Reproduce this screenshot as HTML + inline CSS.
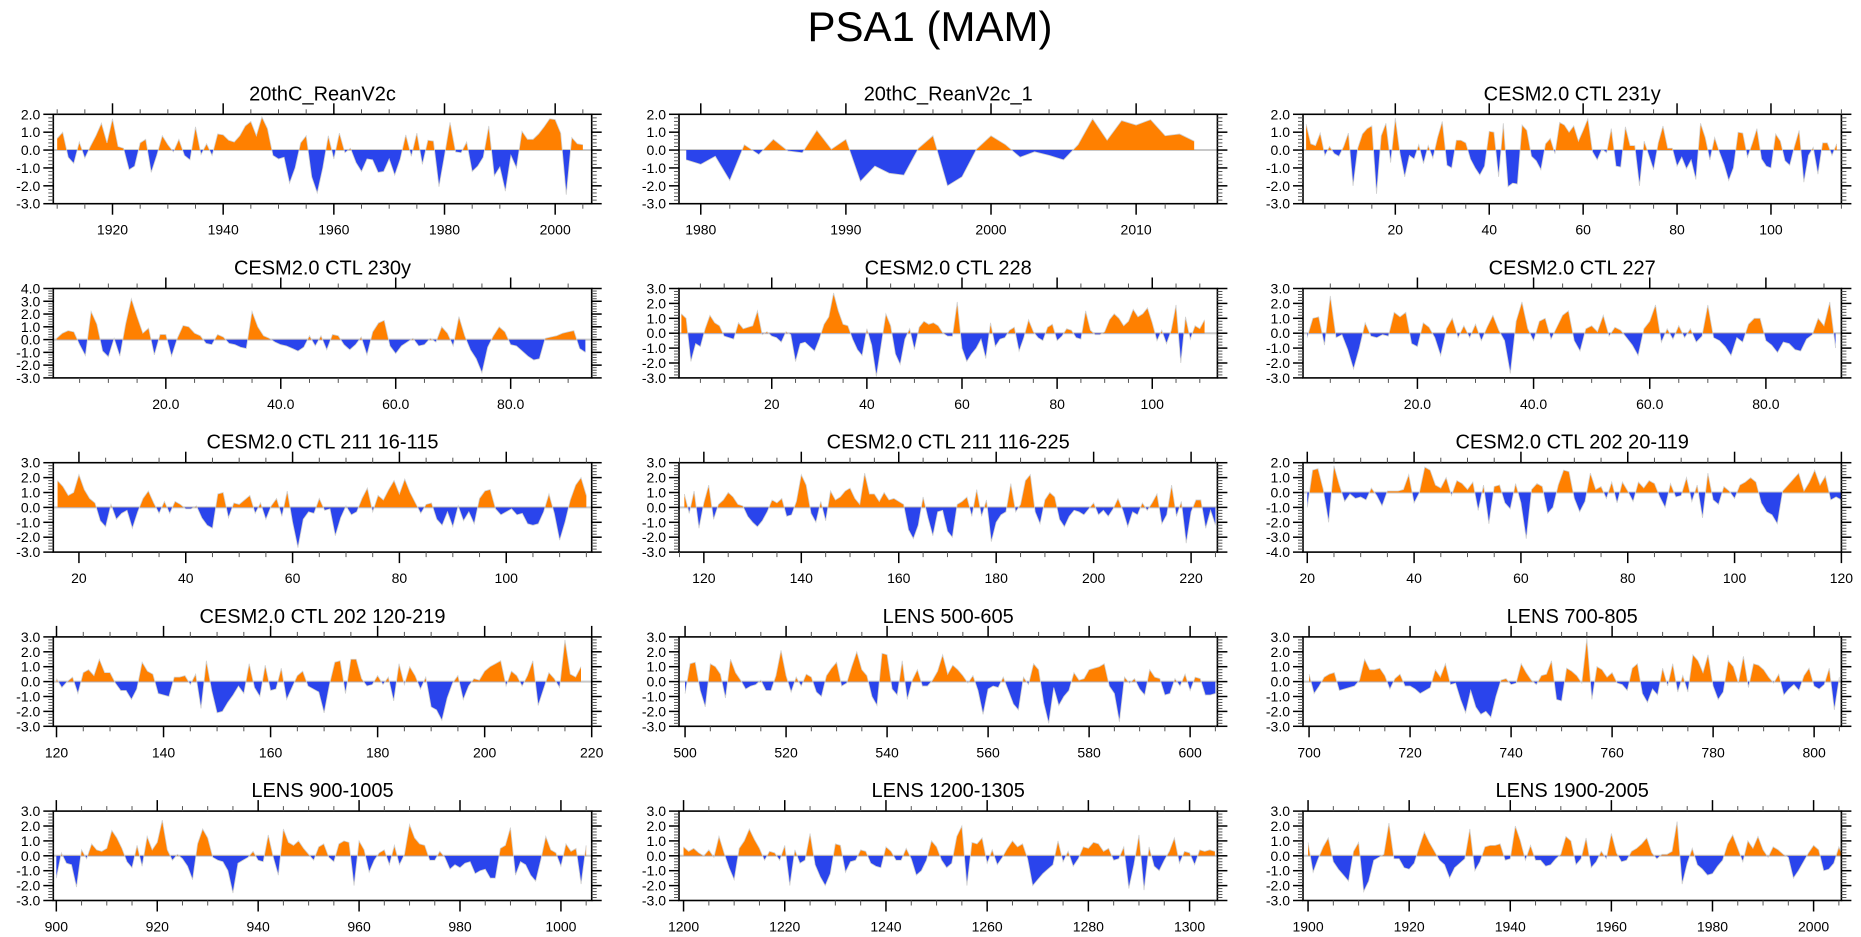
<!DOCTYPE html>
<html>
<head>
<meta charset="utf-8">
<style>
html,body{margin:0;padding:0;background:#fff;}
svg{display:block;font-family:"Liberation Sans",Arial,sans-serif;}
</style>
</head>
<body>
<svg id="fig" width="1861" height="937" viewBox="0 0 1861 937" xmlns="http://www.w3.org/2000/svg">
<text x="930" y="41" font-size="42" text-anchor="middle" fill="#000">PSA1 (MAM)</text>
</svg>
<script>
// ---- data ----
const p1Title = "20thC_ReanV2c";
const p1Start = 1910;
const p1Values = [0.65,1.0,-0.4,-0.75,0.45,-0.45,0.2,0.8,1.5,0.4,1.75,0.2,0.1,-1.1,-0.9,0.4,0.6,-1.25,-0.3,0.8,0.3,-0.1,0.6,-0.3,-0.55,1.3,-0.25,0.35,-0.3,0.9,0.85,0.55,0.45,0.8,1.35,1.6,0.8,1.85,1.2,-0.3,-0.5,-0.4,-1.85,-1.0,0.4,0.8,-1.5,-2.4,-1.0,0.8,-0.5,0.95,-0.15,0.1,-0.7,-1.2,-0.5,-0.55,-1.25,-1.2,-0.5,-1.4,-0.5,0.85,-0.35,0.95,-0.8,0.55,0.5,-2.05,-0.3,1.55,-0.1,-0.15,0.45,-1.2,-0.9,-0.4,1.35,-1.45,-0.95,-2.3,-0.3,-1.0,1.05,0.6,0.6,0.9,1.3,1.75,1.7,0.95,-2.5,0.7,0.35,0.3];

const p2Title = "20thC_ReanV2c_1";
const p2Start = 1979;
const p2Values = [-0.55,-0.8,-0.35,-1.7,0.3,-0.25,0.6,-0.05,-0.15,1.1,0.05,0.6,-1.75,-0.9,-1.3,-1.4,0.1,0.8,-2.0,-1.5,0.05,0.8,0.3,-0.4,-0.1,-0.3,-0.55,0.3,1.75,0.55,1.65,1.4,1.7,0.8,0.9,0.5];

const p3Title = "CESM2.0 CTL 231y";
const p3Start = 1;
const p3Values = [1.45,0.35,0.25,0.95,-0.3,0.2,-0.2,-0.35,0.2,0.95,-2.0,0.1,0.9,1.2,1.35,-2.45,0.8,1.5,-0.7,1.8,-0.2,-1.5,-0.3,-0.5,0.3,-0.75,0.25,-0.45,0.7,1.6,-0.85,-1.0,0.55,0.55,0.4,-0.5,-1.0,-1.4,-0.9,1.05,1.0,-1.5,1.5,-2.05,-1.85,-1.9,1.4,1.1,-0.35,-0.6,-1.1,0.35,0.65,-0.2,1.55,1.4,1.0,1.35,0.5,1.1,1.75,-0.1,-0.55,0.05,-0.15,1.2,-0.9,-0.95,1.3,0.25,0.25,-2.0,0.5,-0.3,-1.1,0.4,1.35,0.1,0.1,-0.9,-0.4,-1.05,-0.55,-1.65,1.5,0.7,-0.55,0.7,-0.1,-0.8,-1.7,-1.0,1.0,0.95,-0.4,0.35,1.2,-0.5,-0.9,-1.0,0.9,0.5,-0.6,-0.85,0.2,1.1,-1.8,-0.3,0.15,-1.35,0.4,0.4,-0.3,0.35];

const p4Title = "CESM2.0 CTL 230y";
const p4Start = 1;
const p4Values = [0.1,0.5,0.7,0.6,-0.4,-1.25,2.2,1.2,-0.9,-1.35,0.1,-1.3,1.2,3.2,1.8,0.5,0.9,-1.2,0.4,0.4,-1.3,0.1,1.1,1.0,0.5,0.3,-0.3,-0.4,0.4,0.2,-0.3,-0.4,-0.6,-0.7,2.2,1.0,0.3,0.1,-0.2,-0.4,-0.5,-0.7,-0.9,-0.6,0.3,-0.5,0.3,-0.8,0.4,0.3,-0.4,-0.8,-0.4,0.2,-1.2,0.6,1.3,1.5,-0.5,-1.1,-0.5,-0.2,0.1,-0.5,-0.4,0.1,-0.2,1.0,0.5,-0.5,1.8,0.3,-0.8,-1.5,-2.6,-0.6,0.3,1.0,0.6,-0.4,-0.5,-0.9,-1.3,-1.6,-1.5,0.1,0.2,0.3,0.5,0.6,0.7,-0.7,-1.0];

const p5Title = "CESM2.0 CTL 228";
const p5Start = 1;
const p5Values = [1.3,1.0,-1.9,-0.7,-0.9,0.3,1.2,0.7,0.5,-0.2,-0.3,-0.4,0.7,0.3,0.4,0.5,1.5,-0.1,0.1,-0.2,-0.3,-0.6,0.1,-0.1,-1.9,-0.7,-0.6,-0.9,-1.2,-0.4,0.6,1.1,2.7,1.5,0.6,0.5,-0.4,-1.1,-1.5,0.3,-0.8,-2.9,-0.8,1.3,0.5,-1.4,-2.1,-0.4,0.3,-1.1,0.4,0.8,0.6,0.7,0.5,0.0,-0.2,-0.2,2.1,-1.0,-1.9,-1.4,-1.0,-0.4,-1.7,0.7,-0.9,-0.4,-0.3,0.2,0.4,-1.2,-0.3,0.9,0.1,-0.3,-0.5,0.4,0.6,-0.5,-0.2,0.3,0.2,-0.3,-0.4,1.5,0.2,-0.1,-0.1,0.1,0.9,1.3,1.0,0.5,0.8,1.6,1.1,1.3,1.7,0.7,-0.5,0.2,-0.7,0.2,1.9,-2.0,1.1,-0.4,0.5,0.3,0.9];

const p6Title = "CESM2.0 CTL 227";
const p6Start = 1;
const p6Values = [-0.3,1.0,1.1,-0.8,2.5,-0.3,-0.1,-1.1,-2.4,-1.0,0.7,-0.2,-0.3,-0.1,-0.2,1.4,1.1,1.4,-0.7,-0.9,0.7,0.4,-0.3,-1.5,0.3,1.0,-0.3,0.5,-0.3,0.6,-0.5,0.4,1.2,0.2,-0.5,-2.7,0.8,2.1,0.3,-0.5,0.8,1.0,-0.4,0.4,1.2,1.5,-0.5,-1.2,0.3,0.5,0.1,1.2,-0.2,0.4,0.2,-0.3,-0.8,-1.5,0.3,0.8,1.9,-0.6,0.3,-0.4,0.5,-0.3,0.3,-0.6,-0.2,1.9,-0.3,-0.5,-0.9,-1.5,-0.3,-0.6,0.6,1.0,1.0,-0.5,-0.8,-1.3,-0.6,-0.7,-1.1,-1.2,-0.4,-0.1,1.0,0.5,2.1,-1.0];

const p7Title = "CESM2.0 CTL 211 16-115";
const p7Start = 16;
const p7Values = [1.8,1.4,0.8,1.0,2.2,1.2,0.6,0.3,-0.9,-1.3,0.2,-0.8,-0.4,-0.2,-1.4,-0.3,0.6,1.1,0.3,-0.4,0.4,-0.4,0.4,0.2,-0.1,-0.1,0.1,-0.7,-1.2,-1.4,0.9,1.0,-0.7,0.3,0.2,0.5,0.8,-0.4,0.3,-0.8,0.1,0.6,-0.6,1.1,-1.0,-2.7,-0.8,-0.3,-0.4,0.6,-0.2,-0.1,-1.9,-0.7,0.1,-0.5,-0.3,0.6,1.3,-0.3,0.8,0.5,1.2,1.8,0.9,1.9,1.0,0.3,-0.4,0.2,0.3,-0.8,-1.2,-0.3,-1.3,0.1,-0.9,-0.3,-1.1,0.6,1.1,1.2,-0.1,-0.5,-0.3,-0.1,-0.5,-0.4,-1.1,-1.2,-1.1,-0.3,0.9,-0.4,-2.2,-1.0,0.5,1.5,2.0,0.8];

const p8Title = "CESM2.0 CTL 211 116-225";
const p8Start = 116;
const p8Values = [0.9,-0.4,1.1,-1.4,0.3,1.5,-0.8,0.2,0.5,1.0,0.7,0.2,0.1,-0.6,-1.0,-1.3,-0.9,-0.3,0.5,0.3,0.6,-0.6,-0.5,0.4,2.2,1.5,-0.4,-1.0,0.4,-0.9,1.1,0.5,0.7,1.1,1.3,0.6,0.2,2.3,0.9,0.9,0.4,1.0,0.5,0.6,0.4,0.2,-1.5,-2.1,-1.2,0.7,-0.7,-1.9,-0.3,-0.2,-1.6,-2.0,0.2,0.4,0.7,-0.6,1.2,-0.6,0.5,-2.3,-1.0,-0.5,-0.3,1.6,-0.3,0.2,1.8,2.2,-0.3,-1.1,0.5,1.0,0.7,-0.8,-1.3,-0.6,-0.2,-0.3,-0.5,-0.1,0.3,-0.5,-0.2,-0.6,-0.1,0.6,-0.2,-1.3,-0.3,-0.5,0.3,-0.2,0.3,0.9,-1.1,-0.5,1.5,-0.6,0.4,-2.4,-0.3,0.5,0.5,-1.4,-0.2,-1.2];

const p9Title = "CESM2.0 CTL 202 20-119";
const p9Start = 20;
const p9Values = [-1.0,1.5,1.6,0.2,-2.0,1.8,0.5,-0.6,-0.1,-0.4,-0.3,-0.5,0.3,-0.2,-0.9,0.1,0.1,0.1,0.2,1.2,-0.7,0.0,1.7,1.5,0.5,0.3,1.0,-0.2,0.8,0.6,0.2,0.7,-1.2,0.5,-2.1,0.4,0.5,-0.7,-1.1,0.6,-0.7,-3.1,0.2,0.6,0.4,-1.4,-1.0,0.5,1.5,1.4,-0.4,-1.3,-0.6,1.3,0.2,0.4,-0.4,0.7,-0.7,0.7,0.1,-0.6,0.7,0.3,0.8,0.6,-0.3,-1.0,0.6,-0.3,-0.2,1.0,-0.6,0.5,-1.7,1.3,-0.5,-0.8,0.4,0.1,-0.4,0.5,0.7,1.0,0.7,-0.7,-1.3,-1.5,-2.1,0.1,0.5,0.9,1.3,0.1,0.7,1.5,0.5,1.1,-0.5,-0.3,-0.5,-0.4,0.0];

const p10Title = "CESM2.0 CTL 202 120-219";
const p10Start = 120;
const p10Values = [0.2,-0.4,0.0,0.3,-0.8,0.6,0.8,0.4,1.5,0.6,0.6,-0.1,-0.6,-0.6,-1.2,-0.5,1.3,0.7,0.5,-0.8,-0.9,-1.0,0.3,0.3,0.4,-0.2,0.5,-1.8,1.4,-0.6,-2.1,-2.0,-1.4,-0.9,-0.3,-0.8,1.2,-0.4,-1.0,1.1,-0.6,-0.5,0.9,-1.2,-0.4,0.4,0.7,-0.3,-0.5,-0.7,-2.1,-0.2,1.3,1.4,-0.8,1.5,1.5,0.2,-0.3,-0.2,0.4,-0.2,0.3,-1.3,1.2,-0.2,1.0,0.4,-0.5,0.3,-1.7,-1.9,-2.6,-1.1,-0.1,0.4,-1.2,-0.3,0.2,0.1,0.7,1.0,1.2,1.4,-0.3,0.7,0.4,-0.3,0.4,1.4,-1.6,-0.5,0.6,0.2,-0.4,2.8,0.5,0.3,1.0];

const p11Title = "LENS 500-605";
const p11Start = 500;
const p11Values = [-0.8,1.2,1.3,-0.6,-1.7,1.2,1.0,0.5,-1.1,1.5,0.6,0.1,-0.5,-0.3,-0.2,0.1,-0.6,-0.6,0.4,2.1,0.4,-0.7,0.3,-0.3,0.5,0.3,-0.7,-1.0,0.4,0.9,1.3,-0.3,-0.1,1.0,2.0,0.8,0.4,-1.0,-1.6,1.9,1.8,-0.5,-0.9,1.4,-1.2,0.1,0.8,-0.3,-0.3,0.1,0.7,1.8,0.5,1.1,0.8,0.4,-0.1,0.4,-0.6,-2.2,-0.5,-0.3,-0.4,0.3,-0.6,-1.5,-1.9,0.3,-0.2,1.2,0.8,-1.4,-2.8,-0.4,-1.6,-1.0,-0.6,0.6,0.1,0.2,0.8,0.9,1.0,1.2,-0.3,-0.8,-2.7,0.3,-0.1,0.2,-0.5,-0.9,0.8,0.3,0.2,-0.9,-0.8,0.2,-0.3,0.5,-0.6,0.3,0.2,-0.9,-0.9,-0.8];

const p12Title = "LENS 700-805";
const p12Start = 700;
const p12Values = [0.5,-0.8,-0.3,0.3,0.5,0.6,-0.6,-0.5,-0.4,-0.3,0.1,1.5,0.8,0.8,0.9,0.4,-0.5,0.2,0.5,-0.3,-0.3,-0.5,-0.8,-0.6,-0.4,0.8,0.3,1.2,-0.2,-0.1,-1.2,-2.1,-0.6,-1.7,-2.2,-2.0,-2.4,-1.0,0.1,0.2,-0.2,-0.1,1.2,0.6,0.1,-0.2,0.4,0.5,1.4,-1.2,-1.3,0.9,0.7,0.4,-0.1,2.9,-1.2,1.0,0.8,0.3,0.6,-0.1,-0.2,-0.6,0.9,1.2,-0.8,-1.4,-0.5,-0.9,0.9,-0.3,1.2,-0.7,0.4,-0.7,1.8,1.4,0.6,1.8,-0.3,-1.2,-0.7,1.4,1.0,-0.1,1.7,-0.4,1.2,1.1,0.8,0.3,-0.1,0.5,-0.9,-0.5,-0.2,-0.6,0.4,0.9,-0.3,-0.5,-0.2,0.9,-1.9,0.3];

const p13Title = "LENS 900-1005";
const p13Start = 900;
const p13Values = [-1.5,0.2,-0.5,-0.6,-2.1,0.4,-0.2,0.8,0.4,0.3,0.5,1.7,1.2,0.5,-0.4,-0.8,0.7,-0.7,1.3,0.4,0.9,2.4,0.4,-0.3,0.1,-0.2,-0.7,-1.6,0.8,1.8,1.2,-0.1,-0.3,-0.4,-1.0,-2.5,-0.5,-0.3,-0.1,0.3,-0.3,-0.4,1.4,-0.1,-1.3,1.8,0.9,0.7,1.0,0.5,0.1,-0.3,0.6,0.8,-0.1,-0.4,0.8,1.0,0.9,-2.0,1.0,0.4,-1.1,-0.3,0.2,0.4,-0.6,0.7,-0.6,0.1,2.1,1.2,0.8,0.7,-0.3,-0.3,0.3,-0.1,-0.9,-0.6,-0.8,-0.5,-0.4,-1.2,-1.0,-0.9,-1.5,-1.5,0.5,0.7,1.9,-1.3,-0.4,-0.6,-1.3,-1.7,-0.3,1.3,0.4,0.2,-0.7,0.8,0.3,0.5,-1.9,0.7];

const p14Title = "LENS 1200-1305";
const p14Start = 1200;
const p14Values = [0.6,0.3,0.5,0.2,0.0,0.4,-0.1,1.3,0.2,-0.8,-1.6,0.5,1.0,1.8,1.1,0.5,-0.3,0.3,0.2,-0.3,0.7,-2.0,0.4,-0.5,-0.3,1.5,-0.6,-1.4,-2.0,-1.2,0.8,0.7,-1.1,-0.4,-0.3,0.4,0.3,-0.5,-0.7,-0.8,0.6,0.3,-0.3,-0.3,0.5,-0.2,-1.3,-1.0,-0.3,1.0,0.6,-0.3,-0.8,-0.5,1.3,2.0,-2.0,0.9,0.8,1.2,-0.5,0.4,-0.6,-0.1,0.5,1.0,0.6,0.8,-0.2,-2.0,-1.6,-1.2,-0.9,-0.6,1.0,-0.4,0.3,-0.7,-0.2,0.6,0.5,0.9,0.8,0.3,0.5,-0.3,-0.2,0.6,-2.2,-0.6,1.4,-2.3,0.6,-0.7,-1.0,-0.3,0.3,1.2,-0.5,0.3,0.2,-0.6,0.4,0.3,0.4,0.3];

const p15Title = "LENS 1900-2005";
const p15Start = 1900;
const p15Values = [0.9,-1.1,-0.2,0.6,1.2,-0.4,-0.9,-1.3,-1.7,0.3,0.9,-2.4,-1.7,-0.3,-0.1,0.1,2.2,-0.2,-0.2,-0.8,-0.9,-0.5,0.6,1.6,0.9,0.3,-0.3,-0.6,-1.5,-0.8,-0.5,-0.2,1.8,-1.0,-0.4,0.6,0.7,0.7,0.8,-0.3,-0.2,2.0,1.0,-0.3,0.7,-0.3,-0.3,-0.7,-0.6,-0.2,0.1,1.3,1.0,-0.6,-0.2,1.2,-0.8,-0.4,0.3,-0.2,1.5,0.2,-0.4,-0.3,0.3,0.5,0.8,1.2,0.2,-0.2,0.1,0.1,0.3,2.3,-1.9,-0.5,0.5,-0.6,-0.9,-1.3,-1.2,-0.7,-0.3,0.8,1.4,0.5,-0.4,1.0,0.5,1.3,0.4,-0.1,0.6,0.4,0.1,-0.1,-1.5,-1.0,-0.4,0.2,0.7,0.4,-1.0,-0.9,-0.5,0.6,-0.2];

// x-axis ranges per panel
const xMins = [1909.3,1978.5,0.34,0.42,0.5,0.3,15.2,114.9,19.2,119.4,498.8,698.8,899.4,1199.1,1899.0];
const xMaxs = [2006.6,2015.6,115.0,94.1,113.7,93.0,116.0,225.4,120.0,220.0,605.4,805.4,1006.1,1305.5,2005.5];
const yMaxs = [2,2,2,4,3,3,3,3,2,3,3,3,3,3,3];
const yMins = [-3,-3,-3,-3,-3,-3,-3,-3,-4,-3,-3,-3,-3,-3,-3];
const xMajor = [20,10,20,20,20,20,20,20,20,20,20,20,20,20,20];
const xMinor = [5,2,5,5,5,5,5,5,5,5,5,5,5,5,5];
const xDecimals = [0,0,0,1,0,1,0,0,0,0,0,0,0,0,0];

const titles = [p1Title,p2Title,p3Title,p4Title,p5Title,p6Title,p7Title,p8Title,p9Title,p10Title,p11Title,p12Title,p13Title,p14Title,p15Title];
const starts = [p1Start,p2Start,p3Start,p4Start,p5Start,p6Start,p7Start,p8Start,p9Start,p10Start,p11Start,p12Start,p13Start,p14Start,p15Start];
const series = [p1Values,p2Values,p3Values,p4Values,p5Values,p6Values,p7Values,p8Values,p9Values,p10Values,p11Values,p12Values,p13Values,p14Values,p15Values];

// ---- layout ----
const colL = [53.3, 679, 1303];
const rowT = [114.3, 288.5, 462.7, 636.9, 811.1];
const PW = 538.4, PH = 89.4;
const NS = "http://www.w3.org/2000/svg";
const svg = document.getElementById('fig');
function mk(tag, attrs, parent){
  const e = document.createElementNS(NS, tag);
  for (const k in attrs) e.setAttribute(k, attrs[k]);
  (parent||svg).appendChild(e);
  return e;
}
const defs = mk('defs', {});

for (let p = 0; p < 15; p++) {
  const L = colL[p % 3], T = rowT[Math.floor(p / 3)];
  const xmin = xMins[p], xmax = xMaxs[p], ymax = yMaxs[p], ymin = yMins[p];
  const sx = v => L + (v - xmin) / (xmax - xmin) * PW;
  const sy = v => T + (ymax - v) / (ymax - ymin) * PH;
  const g = mk('g', {});
  
  

  const y0 = sy(0);
  const cpA = mk('clipPath', {id: 'ca' + p}, defs);
  mk('rect', {x: L, y: T, width: PW, height: y0 - T}, cpA);
  const cpB = mk('clipPath', {id: 'cb' + p}, defs);
  mk('rect', {x: L, y: y0, width: PW, height: T + PH - y0}, cpB);
  const cpAll = mk('clipPath', {id: 'cc' + p}, defs);
  mk('rect', {x: L, y: T, width: PW, height: PH}, cpAll);

  // zero line
  const zl = mk('line', {x1: L, x2: L + PW, y1: y0, y2: y0, stroke: '#c8c8c8', 'stroke-width': 2}, g);
  
  

  const vals = series[p], st = starts[p];
  let d = 'M' + sx(st).toFixed(2) + ',' + y0.toFixed(2);
  let line = '';
  for (let i = 0; i < vals.length; i++) {
    const px = sx(st + i).toFixed(2), py = sy(vals[i]).toFixed(2);
    d += ' L' + px + ',' + py;
    line += (i ? ' L' : 'M') + px + ',' + py;
  }
  d += ' L' + sx(st + vals.length - 1).toFixed(2) + ',' + y0.toFixed(2) + ' Z';
  const pos = mk('path', {d: d, fill: '#ff8000', 'clip-path': 'url(#ca' + p + ')'}, g);
  
  
  const neg = mk('path', {d: d, fill: '#2a44ec', 'clip-path': 'url(#cb' + p + ')'}, g);
  
  
  const ln = mk('path', {d: line, fill: 'none', stroke: '#d0d0d0', 'stroke-width': 0.8, 'clip-path': 'url(#cc' + p + ')'}, g);
  
  

  // frame
  const fr = mk('rect', {x: L, y: T, width: PW, height: PH, fill: 'none', stroke: '#000', 'stroke-width': 1.6}, g);
  
  

  // y ticks (left and right)
  for (let k = 0; k <= Math.round((ymax - ymin) / 0.2); k++) {
    const v = ymin + k * 0.2;
    const yy = sy(v);
    const major = Math.abs(v - Math.round(v)) < 1e-6;
    const len = major ? 10 : 5;
    mk('line', {x1: L - len, x2: L, y1: yy, y2: yy, stroke: major ? '#000' : '#555', 'stroke-width': major ? 1.5 : 1}, g);
    mk('line', {x1: L + PW, x2: L + PW + len, y1: yy, y2: yy, stroke: major ? '#000' : '#555', 'stroke-width': major ? 1.5 : 1}, g);
    if (major) {
      const t = mk('text', {x: L - 13, y: yy + 5, 'font-size': 14, 'text-anchor': 'end', fill: '#000'}, g);
      
      
      t.textContent = Math.round(v).toFixed(1);
    }
  }
  // x ticks (top and bottom)
  const mn = xMinor[p], mj = xMajor[p];
  for (let v = Math.ceil(xmin / mn) * mn; v <= xmax + 1e-9; v += mn) {
    const xx = sx(v);
    const major = Math.abs(v / mj - Math.round(v / mj)) < 1e-6;
    const len = major ? 11 : 5;
    mk('line', {x1: xx, x2: xx, y1: T - len, y2: T, stroke: major ? '#000' : '#555', 'stroke-width': major ? 1.5 : 1}, g);
    mk('line', {x1: xx, x2: xx, y1: T + PH, y2: T + PH + len, stroke: major ? '#000' : '#555', 'stroke-width': major ? 1.5 : 1}, g);
    if (major) {
      const t = mk('text', {x: xx, y: T + PH + 31, 'font-size': 14, 'text-anchor': 'middle', fill: '#000'}, g);
      
      
      t.textContent = v.toFixed(xDecimals[p]);
    }
  }
  // title
  const tt = mk('text', {x: L + PW / 2, y: T - 14, 'font-size': 20, 'text-anchor': 'middle', fill: '#000'}, g);
  
  
  tt.textContent = titles[p];
}
</script>
</body>
</html>
